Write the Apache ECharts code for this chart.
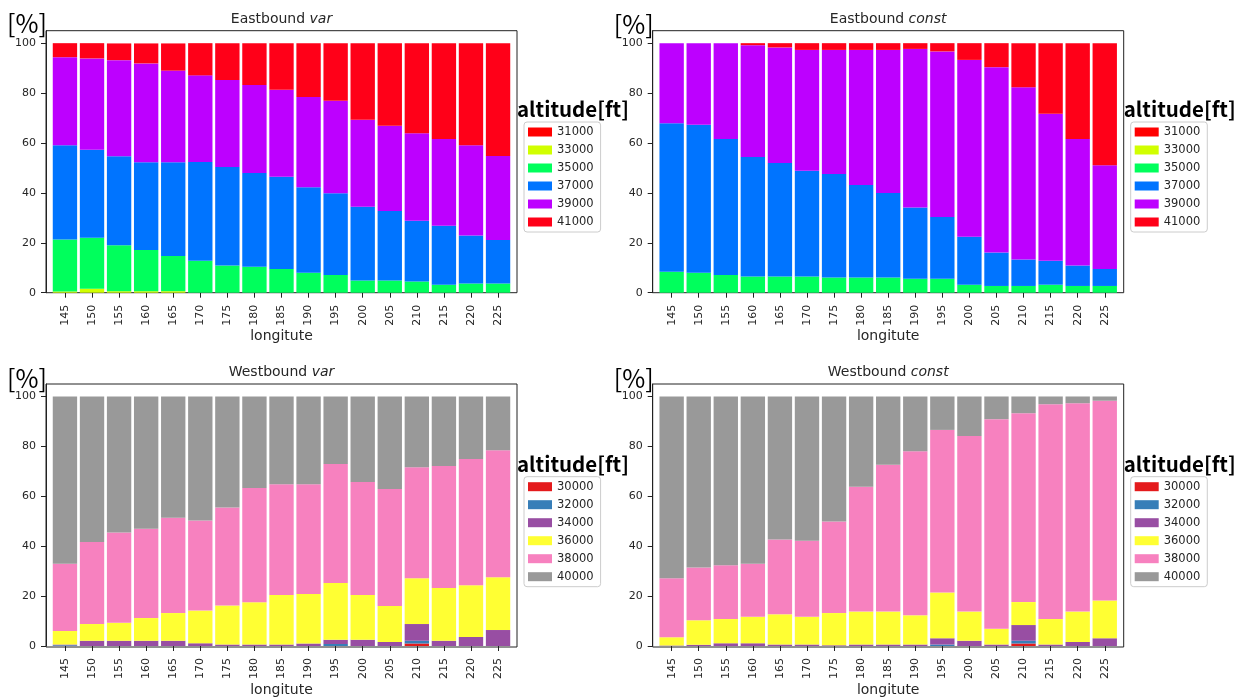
<!DOCTYPE html>
<html><head><meta charset="utf-8">
<script src="https://cdn.jsdelivr.net/npm/echarts@6/dist/echarts.min.js"></script>
<style>html,body{margin:0;padding:0;background:#fff}#c{width:1241px;height:698px}</style>
</head><body><div id="c"></div><script>
// ---------- data ----------
const categories = ['145','150','155','160','165','170','175','180','185','190','195','200','205','210','215','220','225'];
const yTicks = [0, 20, 40, 60, 80, 100];

const eastLevels = ['31000','33000','35000','37000','39000','41000'];
const westLevels = ['30000','32000','34000','36000','38000','40000'];
const eastColors = ['#ff0000','#d1ff00','#00ff5c','#0074ff','#bd00ff','#ff0018'];
const westColors = ['#e41a1c','#377eb8','#984ea3','#ffff33','#f781bf','#999999'];

// Eastbound var
const ev31000 = [0,0,0,0,0,0,0,0,0,0,0,0,0,0,0,0,0];
const ev33000 = [0.5,1.6,0.6,0.6,0.6,0,0,0,0,0,0,0,0,0,0,0,0];
const ev35000 = [20.8,20.4,18.4,16.5,14.1,12.8,10.9,10.4,9.5,8.0,7.1,4.9,4.9,4.5,3.2,3.7,3.7];
const ev37000 = [37.8,35.3,35.7,35.2,37.6,39.6,39.5,37.6,37.0,34.3,32.8,29.5,27.8,24.3,23.6,19.2,17.4];
const ev39000 = [35.3,36.6,38.5,39.6,36.7,34.7,34.8,35.2,34.8,36.1,37.0,34.9,34.2,35.1,34.8,36.2,33.7];
const ev41000 = [5.6,6.1,6.7,8.0,10.9,12.9,14.8,16.8,18.7,21.6,23.1,30.7,33.1,36.1,38.4,40.9,45.2];

// Eastbound const
const ec31000 = [0,0,0,0,0,0,0,0,0,0,0,0,0,0,0,0,0];
const ec33000 = [0,0,0,0,0,0,0,0,0,0,0,0,0,0,0,0,0];
const ec35000 = [8.4,8.0,7.1,6.5,6.5,6.5,6.1,6.1,6.1,5.6,5.6,3.2,2.7,2.7,3.2,2.7,2.7];
const ec37000 = [59.5,59.3,54.5,47.9,45.5,42.4,41.5,37.1,33.9,28.5,24.7,19.2,13.4,10.6,9.6,8.2,6.8];
const ec39000 = [32.1,32.7,38.4,44.8,46.3,48.4,49.7,54.1,57.3,63.6,66.4,70.9,74.3,69.0,58.9,50.7,41.6];
const ec41000 = [0,0,0,0.8,1.7,2.7,2.7,2.7,2.7,2.3,3.3,6.7,9.6,17.7,28.3,38.4,48.9];

// Westbound var
const wv30000 = [0,0,0,0,0,0,0,0,0,0,0,0,0,1.0,0,0,0];
const wv32000 = [0.3,0,0,0,0,0,0,0,0,0,0.8,0,0,1.1,0,0,0];
const wv34000 = [0.3,2.1,2.1,2.1,2.1,1.1,0.6,0.6,0.6,1.0,1.7,2.5,1.6,6.7,2.1,3.6,6.4];
const wv36000 = [5.4,6.7,7.2,9.1,11.1,13.1,15.6,16.9,19.8,19.8,22.7,17.9,14.4,18.4,21.1,20.7,21.2];
const wv38000 = [27.0,32.9,36.2,35.8,38.2,36.1,39.3,45.8,44.4,44.0,47.7,45.3,46.9,44.4,48.9,50.6,50.8];
const wv40000 = [67.0,58.3,54.5,53.0,48.6,49.7,44.5,36.7,35.2,35.2,27.1,34.3,37.1,28.4,27.9,25.1,21.6];

// Westbound const
const wc30000 = [0,0,0,0,0,0,0,0,0,0,0,0,0,1.0,0,0,0];
const wc32000 = [0,0,0,0,0,0,0,0,0,0,0.6,0,0,1.1,0,0,0];
const wc34000 = [0.2,0.5,1.1,1.1,0.6,0.6,0.3,0.6,0.6,0.6,2.5,2.1,0.6,6.3,0.6,1.6,3.1];
const wc36000 = [3.3,9.8,9.7,10.6,12.1,11.1,12.9,13.2,13.2,11.7,18.3,11.7,6.3,9.2,10.2,12.2,15.1];
const wc38000 = [23.7,21.2,21.6,21.3,30.0,30.5,36.7,50.0,58.8,65.7,65.2,70.4,84.0,75.7,86.1,83.5,80.1];
const wc40000 = [72.8,68.5,67.6,67.0,57.3,57.8,50.1,36.2,27.4,22.0,13.4,15.8,9.1,6.7,3.1,2.7,1.7];

const panels = [
  {dir:'Eastbound ', mode:'var',   levels:eastLevels, colors:eastColors, values:[ev31000,ev33000,ev35000,ev37000,ev39000,ev41000]},
  {dir:'Eastbound ', mode:'const', levels:eastLevels, colors:eastColors, values:[ec31000,ec33000,ec35000,ec37000,ec39000,ec41000]},
  {dir:'Westbound ', mode:'var',   levels:westLevels, colors:westColors, values:[wv30000,wv32000,wv34000,wv36000,wv38000,wv40000]},
  {dir:'Westbound ', mode:'const', levels:westLevels, colors:westColors, values:[wc30000,wc32000,wc34000,wc36000,wc38000,wc40000]}
];

// ---------- layout ----------
const frames = [
  {l:46,    t:30.7, w:471, h:262, legendTop:122,   unitY:23,  altY:109,   titleY:19},
  {l:652.7, t:30.7, w:471, h:262, legendTop:122,   unitY:24,  altY:109,   titleY:19},
  {l:46,    t:384,  w:471, h:263, legendTop:476.7, unitY:378, altY:464,   titleY:372.5},
  {l:652.7, t:384,  w:471, h:263, legendTop:476.7, unitY:378, altY:464,   titleY:372.5}
];
const TXT = '#262626';
const FONT = 'DejaVu Sans';

const grid = [], xAxis = [], yAxis = [], series = [], legend = [], graphic = [];
panels.forEach((p, pi) => {
  const f = frames[pi];
  const cat = f.w / 17.4;           // width of one category band
  const inset = 0.2 * cat;
  const gFrame = pi * 2, gBars = pi * 2 + 1;
  // frame grid
  grid.push({left:f.l, top:f.t, width:f.w, height:f.h, show:true, borderColor:'#222', borderWidth:1, backgroundColor:'transparent', containLabel:false});
  xAxis.push({gridIndex:gFrame, type:'value', show:false, min:0, max:1});
  yAxis.push({gridIndex:gFrame, type:'value', show:false, min:0, max:1});
  // bars grid
  grid.push({left:f.l + inset, top:f.t, width:17 * cat, height:f.h, show:false, containLabel:false});
  xAxis.push({
    gridIndex:gBars, type:'category', data:categories, boundaryGap:true,
    axisLine:{show:false},
    axisTick:{show:true, alignWithLabel:true, length:5, lineStyle:{color:'#222'}},
    axisLabel:{rotate:90, margin:12, interval:0, fontSize:11, fontFamily:FONT, color:TXT},
    splitLine:{show:false},
    name:'longitute', nameLocation:'middle', nameGap:37,
    nameTextStyle:{fontSize:14, fontFamily:FONT, color:TXT}
  });
  yAxis.push({
    gridIndex:gBars, type:'value', min:0, max:105, interval:20, offset:inset,
    axisLine:{show:true, lineStyle:{color:'#222'}},
    axisTick:{show:true, length:5, customValues:yTicks, lineStyle:{color:'#222'}},
    axisLabel:{customValues:yTicks, margin:10, fontSize:11, fontFamily:FONT, color:TXT,
               formatter:(v) => (v > 100 ? '' : String(v))},
    splitLine:{show:false}
  });
  p.levels.forEach((name, k) => {
    series.push({
      type:'bar', name:name, xAxisIndex:gBars, yAxisIndex:gBars, stack:'s' + pi,
      data:p.values[k], barWidth:'90%',
      itemStyle:{color:p.colors[k]},
      emphasis:{disabled:true}, animation:false
    });
  });
  legend.push({
    data:p.levels.slice(), orient:'vertical', left:f.l + f.w + 7, top:f.legendTop,
    icon:'rect', itemWidth:24, itemHeight:9, itemGap:4, itemTextGap:10,
    padding:[3, 7, 3, 4], backgroundColor:'#fff', borderColor:'#cccccc', borderWidth:1, borderRadius:3,
    textStyle:{fontSize:11.5, fontFamily:FONT, color:TXT, lineHeight:14},
    selectedMode:false
  });
  // title
  graphic.push({type:'text', x:f.l + f.w / 2, y:f.titleY, style:{
    text:'{n|' + p.dir + '}{i|' + p.mode + '}', align:'center', verticalAlign:'middle',
    rich:{n:{fontSize:14, fontFamily:FONT, fill:TXT, color:TXT}, i:{fontSize:14, fontFamily:FONT, fontStyle:'italic', fill:TXT, color:TXT}}
  }});
  // unit label
  graphic.push({type:'text', x:f.l + 1, y:f.unitY, style:{
    text:'[%]', fontSize:25, fontFamily:'Noto Sans CJK JP', fill:'#000', align:'right', verticalAlign:'middle'
  }});
  // legend heading
  graphic.push({type:'text', x:f.l + f.w, y:f.altY, style:{
    text:'altitude[ft]', fontSize:20.5, fontWeight:'bold', fontFamily:'Noto Sans CJK JP', fill:'#000', align:'left', verticalAlign:'middle'
  }});
});

const chart = echarts.init(document.getElementById('c'), null, {renderer:'canvas'});
chart.setOption({animation:false, backgroundColor:'#fff', grid, xAxis, yAxis, series, legend, graphic});
</script></body></html>
